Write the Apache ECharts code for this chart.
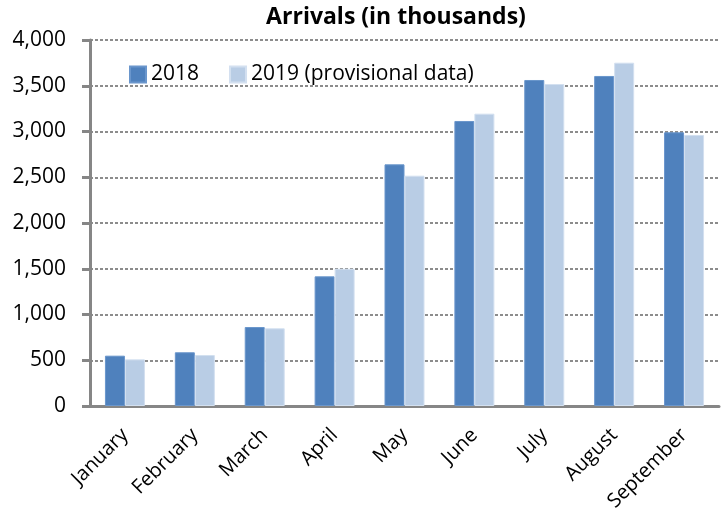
<!DOCTYPE html>
<html>
<head>
<meta charset="utf-8">
<script src="https://cdn.jsdelivr.net/npm/echarts@6/dist/echarts.min.js"></script>
<style>
  html, body { margin: 0; padding: 0; background: #fff; }
  #chart { width: 721px; height: 525px; }
</style>
</head>
<body>
<div id="chart"></div>
<script>
  // months and arrivals (thousands)
  var months = ['January', 'February', 'March', 'April', 'May', 'June', 'July', 'August', 'September'];
  var arr2018 = [550, 587, 863, 1417, 2641, 3115, 3563, 3607, 2991];
  var arr2019 = [510, 557, 849, 1500, 2517, 3195, 3519, 3752, 2962];
  var yTicks = [0, 500, 1000, 1500, 2000, 2500, 3000, 3500, 4000];

  var font = 'Open Sans';
  var chart = echarts.init(document.getElementById('chart'));
  chart.setOption({
    animation: false,
    title: {
      text: 'Arrivals (in thousands)',
      left: 391, top: 1, textAlign: 'center',
      textStyle: { fontFamily: font, fontSize: 23, fontWeight: 'bold', color: '#000' }
    },
    legend: {
      left: 124, top: 59,
      itemWidth: 16, itemHeight: 16, itemGap: 30,
      icon: 'rect',
      textStyle: { fontFamily: font, fontSize: 21, color: '#000' },
      data: ['2018', '2019 (provisional data)']
    },
    grid: { left: 90, right: 2, top: 40, bottom: 119, containLabel: false },
    xAxis: {
      type: 'category',
      data: months,
      axisLine: { lineStyle: { color: '#868686', width: 3 } },
      axisTick: { show: false },
      axisLabel: {
        rotate: 45, interval: 0, margin: 26,
        fontFamily: font, fontSize: 20, color: '#000'
      }
    },
    yAxis: {
      type: 'value',
      min: yTicks[0], max: yTicks[yTicks.length - 1], interval: 500,
      axisLine: { show: true, lineStyle: { color: '#868686', width: 3 } },
      axisTick: { show: true, length: 8, lineStyle: { color: '#868686', width: 3 } },
      splitLine: { lineStyle: { color: '#8c8c8c', type: [3, 2], width: 2 } },
      axisLabel: {
        margin: 24, fontFamily: font, fontSize: 21, color: '#000',
        formatter: function (v) { return v.toLocaleString('en-US'); }
      }
    },
    series: [
      {
        name: '2018', type: 'bar', data: arr2018,
        barWidth: 20, barGap: '0%',
        itemStyle: { color: '#4F81BD', borderColor: '#6a96cc', borderWidth: 1 }
      },
      {
        name: '2019 (provisional data)', type: 'bar', data: arr2019,
        barWidth: 20,
        itemStyle: { color: '#B9CDE5', borderColor: '#d3e0f0', borderWidth: 1 }
      }
    ]
  });
</script>
</body>
</html>
